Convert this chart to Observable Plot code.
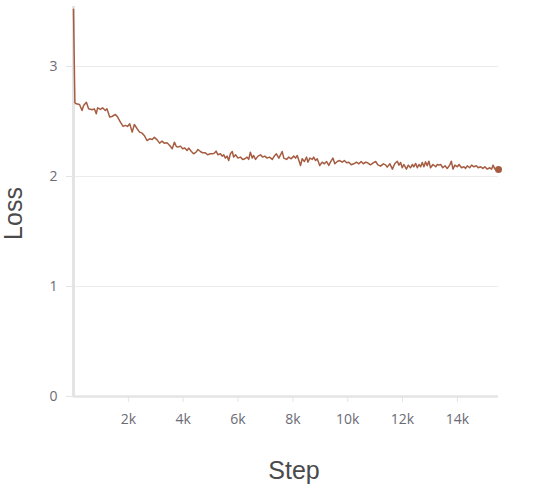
<!DOCTYPE html>
<html>
<head>
<meta charset="utf-8">
<script src="https://cdn.jsdelivr.net/npm/d3@7"></script>
<script src="https://cdn.jsdelivr.net/npm/@observablehq/plot@0.6"></script>
<style>
  html, body { margin: 0; padding: 0; background: #fff; }
  #chart svg { display: block; }
</style>
</head>
<body>
<div id="chart"></div>
<script>
// Training steps (x) and loss values (y)
const steps = [
  0, 50, 100, 220, 310, 370, 470, 550, 680, 760, 830, 880, 980, 1060, 1160, 1220,
  1320, 1400, 1530, 1610, 1710, 1810, 1890, 1970, 2050, 2140, 2220, 2320, 2410, 2500,
  2580, 2680, 2780, 2870, 2950, 3050, 3140, 3230, 3310, 3410, 3510, 3600, 3680, 3750,
  3810, 3900, 3980, 4060, 4140, 4200, 4300, 4380, 4470, 4540, 4630, 4710, 4810, 4890,
  4990, 5080, 5150, 5200, 5270, 5360, 5420, 5480, 5540, 5600, 5660, 5720, 5790, 5840,
  5910, 6000, 6090, 6170, 6250, 6330, 6390, 6450, 6520, 6570, 6640, 6730, 6820, 6900,
  6980, 7060, 7150, 7250, 7340, 7400, 7490, 7610, 7670, 7770, 7850, 7940, 8030, 8100,
  8160, 8220, 8280, 8340, 8420, 8500, 8550, 8620, 8710, 8760, 8830, 8890, 8980, 9070,
  9150, 9230, 9310, 9370, 9460, 9530, 9620, 9710, 9800, 9880, 9960, 10040, 10130, 10220,
  10320, 10410, 10490, 10570, 10650, 10730, 10830, 10930, 11020, 11100, 11200, 11300, 11380, 11440,
  11540, 11630, 11720, 11810, 11870, 11930, 11990, 12050, 12140, 12210, 12290, 12360, 12410, 12480,
  12540, 12600, 12660, 12720, 12780, 12840, 12900, 12960, 13020, 13110, 13210, 13270, 13330, 13390,
  13470, 13550, 13630, 13720, 13780, 13840, 13910, 14000, 14060, 14150, 14240, 14300, 14360, 14450,
  14520, 14600, 14690, 14760, 14850, 14930, 15000, 15090, 15180, 15250, 15300, 15370, 15500
];
const loss = [
  3.52, 2.67, 2.66, 2.655, 2.60, 2.645, 2.675, 2.615, 2.606, 2.615, 2.57, 2.624, 2.609, 2.624, 2.60, 2.615,
  2.54, 2.545, 2.564, 2.54, 2.494, 2.455, 2.464, 2.455, 2.479, 2.403, 2.473, 2.434, 2.403, 2.394,
  2.373, 2.327, 2.342, 2.336, 2.357, 2.333, 2.303, 2.321, 2.303, 2.306, 2.282, 2.252, 2.312, 2.273,
  2.267, 2.276, 2.252, 2.258, 2.236, 2.258, 2.227, 2.206, 2.221, 2.245, 2.227, 2.215, 2.215, 2.197,
  2.206, 2.206, 2.215, 2.230, 2.197, 2.206, 2.185, 2.197, 2.167, 2.185, 2.145, 2.206, 2.227, 2.176,
  2.197, 2.167, 2.176, 2.155, 2.161, 2.176, 2.155, 2.221, 2.167, 2.191, 2.155, 2.185, 2.197, 2.176,
  2.185, 2.167, 2.176, 2.155, 2.191, 2.206, 2.167, 2.227, 2.167, 2.155, 2.176, 2.161, 2.185, 2.167,
  2.191, 2.145, 2.100, 2.161, 2.136, 2.176, 2.130, 2.167, 2.155, 2.176, 2.145, 2.161, 2.100, 2.130,
  2.115, 2.136, 2.100, 2.130, 2.167, 2.115, 2.136, 2.145, 2.130, 2.145, 2.124, 2.130, 2.106, 2.115,
  2.130, 2.115, 2.136, 2.115, 2.130, 2.124, 2.106, 2.124, 2.136, 2.106, 2.094, 2.115, 2.106, 2.085,
  2.115, 2.067, 2.118, 2.139, 2.103, 2.127, 2.079, 2.109, 2.067, 2.103, 2.079, 2.109, 2.088, 2.118,
  2.079, 2.109, 2.088, 2.127, 2.088, 2.133, 2.097, 2.139, 2.079, 2.109, 2.088, 2.109, 2.103, 2.109,
  2.079, 2.097, 2.073, 2.103, 2.139, 2.067, 2.103, 2.088, 2.109, 2.079, 2.088, 2.073, 2.097, 2.079,
  2.103, 2.088, 2.097, 2.079, 2.088, 2.073, 2.088, 2.067, 2.079, 2.067, 2.103, 2.067, 2.064
];
const yTicks = [0, 1, 2, 3];
const xTicks = [2000, 4000, 6000, 8000, 10000, 12000, 14000];
const xTitle = "Step";
const yTitle = "Loss";

const data = steps.map((s, i) => ({step: s, loss: loss[i]}));
const lineColor = "#a65c41";
const axisGray = "#e4e4e4";
const tickText = "#6b6b75";

const chart = Plot.plot({
  width: 547,
  height: 493,
  marginLeft: 73,
  marginRight: 49,
  marginTop: 6,
  marginBottom: 97,
  style: {fontFamily: "'Open Sans', sans-serif", fontSize: "14px", background: "#fff"},
  x: {domain: [0, 15500]},
  y: {domain: [0, 3.545]},
  marks: [
    Plot.gridY([1, 2, 3], {stroke: "#ececec", strokeOpacity: 1, strokeWidth: 1}),
    Plot.axisY({ticks: yTicks, tickSize: 7, tickPadding: 9, stroke: axisGray, fill: tickText, label: null, tickFormat: d => String(d)}),
    Plot.axisX({ticks: xTicks, tickSize: 6, tickPadding: 12, stroke: axisGray, fill: tickText, label: null, tickFormat: d => (d / 1000) + "k"}),
    Plot.ruleY([0], {stroke: axisGray, strokeWidth: 2.5}),
    Plot.ruleX([0], {stroke: axisGray, strokeWidth: 3}),
    Plot.lineY(data, {x: "step", y: "loss", stroke: lineColor, strokeWidth: 1.5}),
    Plot.dot(data.slice(-1), {x: "step", y: "loss", r: 3.5, fill: lineColor, stroke: "none"}),
    Plot.text([xTitle], {frameAnchor: "bottom", textAnchor: "middle", dx: 8, dy: 82, fontSize: 25, fill: "#4a4a4a", fontFamily: "'Liberation Sans', Arial, sans-serif"}),
    Plot.text([yTitle], {frameAnchor: "left", textAnchor: "middle", dx: -60, dy: 12, rotate: -90, fontSize: 25, fill: "#4a4a4a", fontFamily: "'Liberation Sans', Arial, sans-serif"})
  ]
});
document.getElementById("chart").appendChild(chart);
</script>
</body>
</html>
